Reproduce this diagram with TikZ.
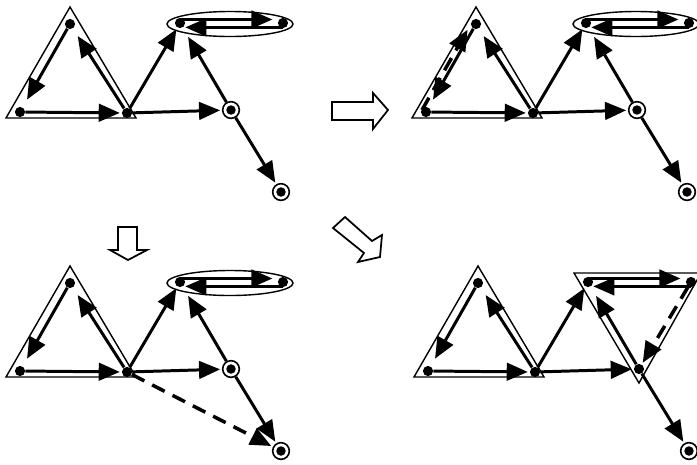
\documentclass[tikz,border=0pt]{standalone}
\usetikzlibrary{arrows.meta, calc}

% one copy of the network, placed by the scope around it
\newcommand{\netbase}[1]{%
  \node[dot] (A) at (20,112) {};
  \node[dot] (B) at (70,24) {};
  \node[dot] (C) at (127,113) {};
  \node[dot] (D) at (180,23) {};
  \node[dot] (E) at (283,23) {};
  \node[#1] (F) at (231,110) {};
  \node[term] (G) at (281,192) {};
  \draw[hull] (6,118) -- (70,7) -- (136,118) -- cycle;
  \draw[arc, shorten >=5pt] (B) -- (A);
  \draw[arc, shorten >=5pt] (C) -- (B);
  \draw[arc] (A) -- (C);
  \draw[arc] (C) -- (D);
  \draw[arc] (C) -- (F);
  \draw[arc, shorten >=6pt] (F) -- (D);
  \draw[arc, shorten >=6pt] ([yshift=2pt]D.center) -- ([yshift=2pt]E.center);
  \draw[arc, shorten >=3pt] ([yshift=-2.5pt]E.center) -- ([yshift=-2.5pt]D.center);
  \draw[arc] (F) -- (G);
}

\begin{document}
\begin{tikzpicture}[
    x=0.02cm, y=-0.02cm,
    dot/.style={circle, fill, inner sep=0pt, minimum size=5.8pt},
    term/.style={circle, draw, line width=0.9pt, inner sep=0pt, minimum size=9.5pt,
        path picture={\fill (path picture bounding box.center) circle (2.7pt);}},
    arc/.style={line width=1.7pt, -{Triangle[length=12pt, width=10pt]}, shorten >=1pt},
    hull/.style={line width=0.8pt},
    gap/.style={line width=2pt, dash pattern=on 8pt off 5pt},
    hollow/.style={draw, line width=1pt, fill=white, line join=miter}
]
\useasboundingbox (0,0) rectangle (697,464);

% Initial network
\begin{scope}[name prefix=p1-]
  \netbase{term}
  \draw[hull] (230,24) ellipse [x radius=63, y radius=12.5];
\end{scope}

% Variant to the right
\begin{scope}[shift={(406,0)}, name prefix=p2-]
  \netbase{term}
  \draw[hull] (230,24) ellipse [x radius=63, y radius=12.5];
  \draw[arc, gap, shorten >=5pt] ([shift={(-4,-2)}]A.center) -- ([shift={(-4,-2)}]B.center);
\end{scope}

% Variant below
\begin{scope}[shift={(0,259)}, name prefix=p3-]
  \netbase{term}
  \draw[hull] (230,24) ellipse [x radius=63, y radius=12.5];
  \draw[arc, gap] (C) -- (G);
\end{scope}

% Variant diagonal
\begin{scope}[shift={(408,259)}, name prefix=p4-]
  \netbase{dot}
  \draw[hull] (166,14) -- (293,14) -- (231,124) -- cycle;
  \draw[arc, gap] (E) -- (F);
\end{scope}

% Transition arrows
\draw[hollow] (332,102) -- (373,102) -- (373,93) -- (388,110) -- (373,129) -- (373,120) -- (332,120) -- cycle;
\draw[hollow] (118,227) -- (137,227) -- (137,250) -- (147,250) -- (128,260) -- (110,250) -- (118,250) -- cycle;
\draw[hollow] (333,228) -- (345,217) -- (372,241) -- (382,235) -- (380,257) -- (358,262) -- (364,253) -- cycle;

\end{tikzpicture}
\end{document}
